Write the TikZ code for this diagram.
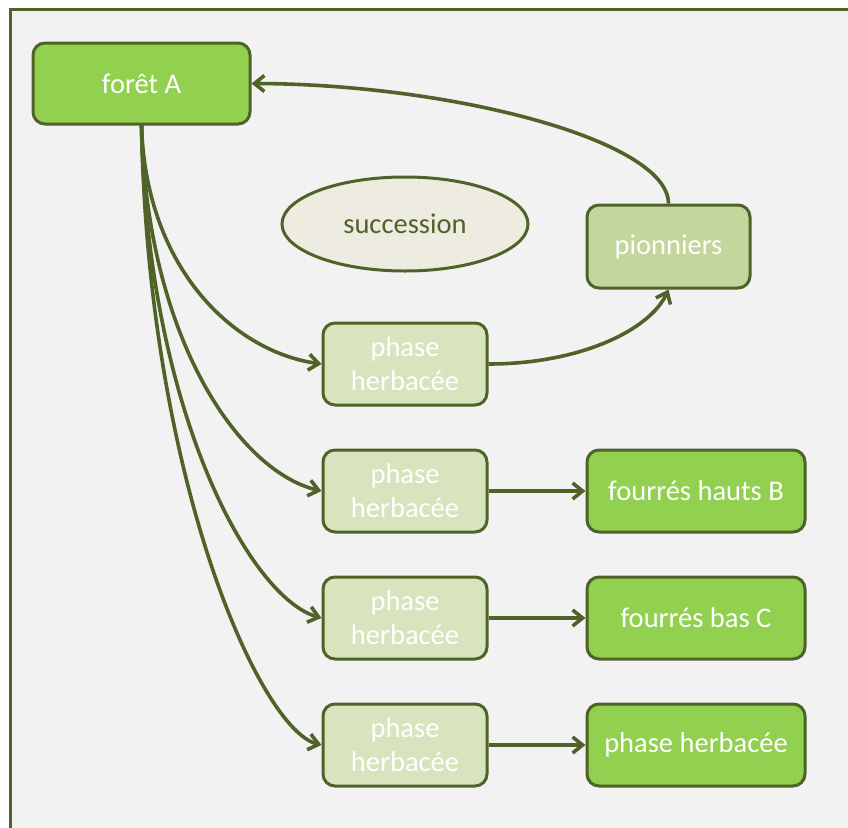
\documentclass[tikz,border=0pt]{standalone}
\usepackage{fontspec}
\setmainfont{Carlito}
\usetikzlibrary{arrows.meta,shapes.geometric}
\definecolor{olive}{HTML}{4F6228}
\definecolor{bright}{HTML}{92D050}
\definecolor{pion}{HTML}{C3D69B}
\definecolor{pale}{HTML}{D7E4BD}
\definecolor{ellfill}{HTML}{EEECE1}
\definecolor{bg}{HTML}{F2F2F2}
\tikzset{
  box/.style={draw=olive, line width=3pt, rounded corners=12pt, inner sep=0pt,
    align=center, text=white, font=\fontsize{28.5}{34}\selectfont},
  brightbox/.style={box, fill=bright, minimum width=218pt, minimum height=82pt},
  phasebox/.style={box, fill=pale, minimum width=164pt, minimum height=82pt},
  pionbox/.style={box, fill=pion, minimum width=163pt, minimum height=83pt},
  conn/.style={draw=olive, line width=3.6pt, -{Straight Barb[length=10pt,width=16pt,line width=3.6pt]}},
}
\begin{document}
\begin{tikzpicture}[x=1pt,y=-1pt]
\useasboundingbox (0,0) rectangle (848,827);
\fill[white] (0,0) rectangle (848,827);
\begin{scope}
\clip (0,0) rectangle (848,827);
\draw[olive, line width=3pt, fill=bg] (10.5,9.5) rectangle (870,850);
\end{scope}

\node[brightbox, minimum width=217pt, minimum height=81pt] (fa) at (141.5,83.5) {forêt A};
\node[ellipse, draw=olive, line width=3pt, fill=ellfill, minimum width=246pt, minimum height=94pt,
  inner sep=0pt, text=olive, font=\fontsize{28.5}{34}\selectfont] (succ) at (405,224) {succession};
\node[pionbox] (pi) at (668.5,246.5) {pionniers};

\node[phasebox] (p1) at (405,364) {phase\\herbacée};
\node[phasebox] (p2) at (405,491) {phase\\herbacée};
\node[phasebox] (p3) at (405,618) {phase\\herbacée};
\node[phasebox] (p4) at (405,745) {phase\\herbacée};

\node[brightbox] (b) at (696,491) {fourrés hauts B};
\node[brightbox] (c) at (696,618) {fourrés bas C};
\node[brightbox] (h) at (696,745) {phase herbacée};

\draw[conn] (fa.south) .. controls (146,270) and (235,352) .. (p1.west);
\draw[conn] (fa.south) .. controls (147,340) and (240,472) .. (p2.west);
\draw[conn] (fa.south) .. controls (147,410) and (250,598) .. (p3.west);
\draw[conn] (fa.south) .. controls (148,480) and (260,730) .. (p4.west);

\draw[conn] (p1.east) .. controls (580,364) and (650,330) .. (pi.south);
\draw[conn] (pi.north) .. controls (668,140) and (450,84) .. (fa.east);

\draw[conn] (p2.east) -- (b.west);
\draw[conn] (p3.east) -- (c.west);
\draw[conn] (p4.east) -- (h.west);
\end{tikzpicture}
\end{document}
